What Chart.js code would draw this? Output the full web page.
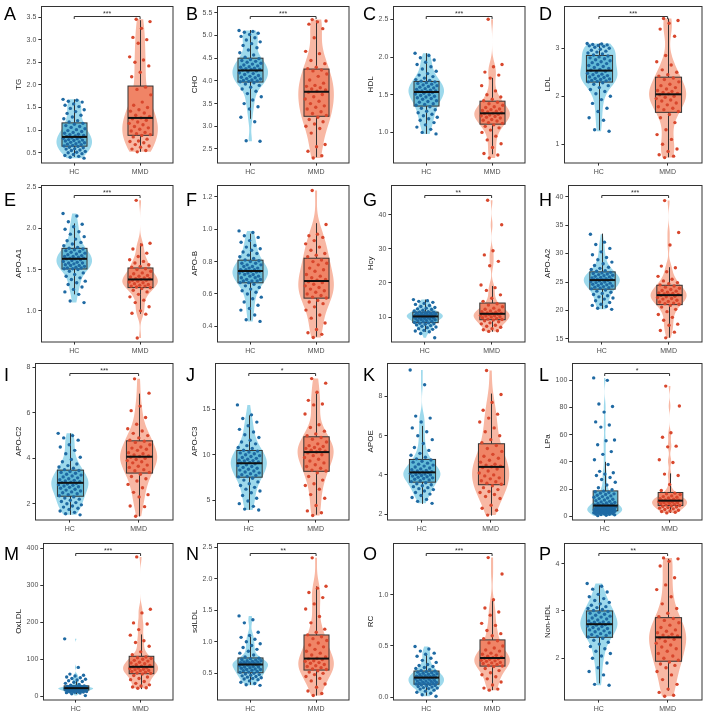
<!DOCTYPE html>
<html>
<head>
<meta charset="utf-8">
<script src="https://cdn.jsdelivr.net/npm/chart.js@4"></script>
<style>
  body { margin: 0; background: #fff; }
  #grid { position: relative; width: 709px; height: 716px; }
  #grid canvas { position: absolute; }
</style>
</head>
<body>
<div id="grid"></div>
<script>
// groups and panel text
const groups = ['HC', 'MMD'];
const panelLetters = ['A','B','C','D','E','F','G','H','I','J','K','L','M','N','O','P'];
const yTitles = ['TG','CHO','HDL','LDL','APO-A1','APO-B','Hcy','APO-A2','APO-C2','APO-C3','APOE','LPa','OxLDL','sdLDL','RC','Non-HDL'];
const sigLabels = ['***','***','***','***','***','','**','***','***','*','','*','***','**','***','**'];

// y axis ranges and tick labels
const yMins = [0.282, 2.20, 0.599, 0.616, 0.627, 0.305, 2.81, 14.54, 1.30, 2.84, 1.72, -2.4, -8.8, 0.084, -0.022, 1.128];
const yMaxs = [3.74, 5.645, 2.674, 3.877, 2.524, 1.273, 48.6, 42.0, 8.19, 20.1, 9.70, 112.4, 413, 2.562, 1.50, 4.43];
const yTickLabels = [
  ['0.5','1.0','1.5','2.0','2.5','3.0','3.5'],
  ['2.5','3.0','3.5','4.0','4.5','5.0','5.5'],
  ['1.0','1.5','2.0','2.5'],
  ['1','2','3'],
  ['1.0','1.5','2.0','2.5'],
  ['0.4','0.6','0.8','1.0','1.2'],
  ['10','20','30','40'],
  ['15','20','25','30','35','40'],
  ['2','4','6','8'],
  ['5','10','15'],
  ['2','4','6','8'],
  ['0','20','40','60','80','100'],
  ['0','100','200','300','400'],
  ['0.5','1.0','1.5','2.0','2.5'],
  ['0.0','0.5','1.0'],
  ['2','3','4']
];

// box statistics [lower whisker, Q1, median, Q3, upper whisker]
const hcBoxes = [
  [0.41, 0.645, 0.85, 1.16, 1.68], [3.165, 3.975, 4.23, 4.50, 5.12], [0.98, 1.349, 1.536, 1.676, 2.05], [1.29, 2.295, 2.534, 2.85, 3.10],
  [1.20, 1.508, 1.631, 1.758, 2.06], [0.436, 0.669, 0.742, 0.809, 0.973], [5.7, 8.36, 10.18, 11.43, 15.1], [20.29, 23.74, 25.34, 26.78, 33.5],
  [1.51, 2.33, 2.92, 3.479, 5.1], [3.92, 7.52, 9.06, 10.47, 14.35], [2.52, 3.63, 4.13, 4.79, 6.5], [0.5, 4.07, 7.9, 18.66, 40],
  [6, 16.8, 22.1, 28.3, 45], [0.318, 0.51, 0.64, 0.744, 1.108], [0.016, 0.128, 0.192, 0.256, 0.415], [1.47, 2.443, 2.72, 3.0, 3.54]
];
const mmdBoxes = [
  [0.52, 0.885, 1.27, 1.975, 3.43], [2.32, 3.22, 3.76, 4.26, 5.33], [0.71, 1.109, 1.253, 1.414, 1.724], [0.726, 1.664, 2.04, 2.397, 3.62],
  [0.964, 1.282, 1.381, 1.52, 1.817], [0.335, 0.574, 0.68, 0.821, 1.038], [5.7, 9.22, 10.95, 14.1, 19.1], [15.23, 21.03, 22.7, 24.43, 27.6],
  [1.44, 3.35, 4.07, 4.77, 6.85], [3.38, 8.17, 10.29, 11.98, 16.87], [1.92, 3.50, 4.41, 5.59, 8.15], [2.5, 7.9, 11.5, 17.5, 31.5],
  [19.5, 61, 79.6, 108, 167], [0.147, 0.552, 0.734, 1.108, 1.877], [0.07, 0.304, 0.383, 0.559, 0.952], [1.315, 1.938, 2.443, 2.858, 4.10]
];

// individual values
const hcTG = [1.68,1.66,1.64,1.62,1.58,1.55,1.52,1.48,1.45,1.41,1.37,1.33,1.29,1.25,1.21,1.18,1.15,1.13,1.10,1.08,1.06,1.03,1.01,0.99,0.97,0.95,0.93,0.91,0.90,0.88,0.87,0.86,0.84,0.83,0.82,0.81,0.79,0.78,0.77,0.76,0.74,0.73,0.72,0.70,0.69,0.68,0.66,0.65,0.64,0.62,0.61,0.59,0.58,0.56,0.55,0.53,0.51,0.50,0.48,0.46,0.44,0.42,0.40,0.38];
const mmdTG = [3.45,3.40,3.25,3.05,3.00,2.92,2.62,2.55,2.50,2.42,2.28,2.18,1.95,1.90,1.78,1.62,1.55,1.50,1.45,1.42,1.38,1.33,1.30,1.27,1.25,1.22,1.18,1.15,1.12,1.08,1.05,1.02,0.98,0.95,0.92,0.90,0.88,0.85,0.80,0.76,0.75,0.72,0.68,0.65,0.62,0.58,0.55,0.52];
const hcCHO = [5.11,5.09,5.07,5.05,5.02,4.98,4.95,4.90,4.86,4.82,4.78,4.73,4.68,4.62,4.57,4.52,4.49,4.47,4.45,4.43,4.41,4.39,4.37,4.35,4.33,4.31,4.30,4.28,4.27,4.26,4.25,4.24,4.22,4.20,4.18,4.16,4.14,4.12,4.10,4.08,4.07,4.05,4.04,4.02,4.01,4.00,3.99,3.98,3.96,3.93,3.90,3.86,3.82,3.77,3.72,3.65,3.58,3.50,3.43,3.38,3.20,3.10,2.68,2.67];
const mmdCHO = [5.35,5.32,5.30,5.25,5.15,4.95,4.65,4.60,4.45,4.38,4.30,4.27,4.24,4.22,4.15,4.10,4.02,3.95,3.90,3.88,3.85,3.82,3.80,3.77,3.75,3.70,3.65,3.60,3.55,3.50,3.45,3.42,3.38,3.32,3.28,3.24,3.20,3.15,3.10,3.05,3.00,2.95,2.85,2.60,2.55,2.45,2.35,2.30];
const hcHDL = [2.05,2.02,1.99,1.96,1.93,1.90,1.87,1.84,1.81,1.78,1.76,1.74,1.72,1.70,1.69,1.68,1.67,1.66,1.65,1.64,1.63,1.62,1.61,1.60,1.59,1.58,1.57,1.56,1.55,1.55,1.54,1.54,1.53,1.52,1.51,1.50,1.49,1.48,1.47,1.46,1.45,1.44,1.42,1.41,1.40,1.38,1.37,1.36,1.34,1.32,1.30,1.28,1.26,1.24,1.22,1.20,1.18,1.16,1.13,1.10,1.07,1.04,1.00,0.98];
const mmdHDL = [2.50,1.90,1.87,1.80,1.76,1.72,1.62,1.55,1.50,1.47,1.44,1.42,1.40,1.38,1.36,1.34,1.33,1.31,1.30,1.29,1.28,1.27,1.26,1.255,1.25,1.24,1.23,1.22,1.21,1.20,1.19,1.17,1.16,1.15,1.13,1.12,1.10,1.08,1.06,1.03,1.00,0.95,0.90,0.85,0.80,0.72,0.70,0.66];
const hcLDL = [3.10,3.09,3.08,3.07,3.06,3.05,3.04,3.02,3.00,2.98,2.96,2.94,2.92,2.90,2.88,2.86,2.84,2.82,2.80,2.78,2.76,2.74,2.72,2.70,2.68,2.66,2.64,2.62,2.60,2.58,2.56,2.54,2.52,2.50,2.48,2.46,2.45,2.43,2.42,2.40,2.39,2.37,2.36,2.35,2.33,2.32,2.31,2.30,2.28,2.25,2.22,2.18,2.14,2.10,2.05,2.00,1.93,1.85,1.75,1.68,1.55,1.50,1.30,1.27];
const mmdLDL = [3.62,3.58,3.52,3.40,3.25,2.85,2.72,2.65,2.55,2.50,2.45,2.42,2.38,2.35,2.30,2.25,2.22,2.18,2.15,2.12,2.10,2.08,2.06,2.05,2.03,2.00,1.98,1.95,1.92,1.90,1.86,1.82,1.78,1.75,1.72,1.68,1.62,1.55,1.45,1.30,1.20,1.10,1.00,0.90,0.85,0.78,0.75,0.72];
const hcAPOA1 = [2.18,2.15,2.08,2.05,2.02,1.99,1.96,1.93,1.90,1.87,1.85,1.83,1.81,1.79,1.77,1.76,1.75,1.74,1.73,1.72,1.71,1.70,1.69,1.68,1.67,1.66,1.66,1.65,1.64,1.64,1.63,1.63,1.62,1.61,1.60,1.59,1.58,1.58,1.57,1.56,1.55,1.55,1.54,1.53,1.52,1.52,1.51,1.51,1.50,1.48,1.46,1.44,1.42,1.40,1.38,1.36,1.34,1.32,1.29,1.26,1.23,1.20,1.12,1.10];
const mmdAPOA1 = [2.34,1.82,1.80,1.75,1.70,1.66,1.62,1.60,1.58,1.56,1.54,1.53,1.51,1.50,1.48,1.46,1.45,1.43,1.42,1.41,1.40,1.39,1.39,1.38,1.37,1.37,1.36,1.35,1.34,1.33,1.32,1.31,1.30,1.30,1.29,1.28,1.27,1.25,1.23,1.20,1.17,1.13,1.10,1.05,1.00,0.97,0.96,0.67];
const hcAPOB = [0.99,0.98,0.96,0.95,0.93,0.92,0.90,0.89,0.88,0.87,0.86,0.85,0.84,0.83,0.82,0.81,0.805,0.80,0.79,0.79,0.78,0.78,0.77,0.77,0.76,0.76,0.75,0.75,0.75,0.74,0.74,0.74,0.735,0.73,0.73,0.72,0.72,0.71,0.71,0.70,0.70,0.69,0.69,0.68,0.68,0.68,0.67,0.67,0.66,0.65,0.64,0.63,0.62,0.61,0.60,0.58,0.57,0.55,0.53,0.51,0.50,0.47,0.44,0.43];
const mmdAPOB = [1.24,1.03,0.97,0.96,0.95,0.93,0.91,0.89,0.87,0.85,0.84,0.83,0.81,0.80,0.79,0.78,0.76,0.75,0.74,0.72,0.71,0.70,0.69,0.685,0.675,0.67,0.66,0.65,0.64,0.63,0.62,0.61,0.60,0.59,0.58,0.575,0.56,0.55,0.54,0.52,0.50,0.47,0.45,0.42,0.38,0.36,0.35,0.33];
const hcHcy = [15.1,14.8,14.6,14.3,14.0,13.7,13.4,13.1,12.8,12.6,12.4,12.2,12.0,11.8,11.6,11.5,11.4,11.3,11.2,11.1,11.0,10.9,10.8,10.7,10.6,10.55,10.5,10.4,10.35,10.3,10.25,10.2,10.15,10.1,10.0,9.9,9.8,9.7,9.6,9.5,9.4,9.3,9.2,9.0,8.9,8.8,8.6,8.4,8.3,8.2,8.0,7.9,7.7,7.5,7.3,7.1,6.9,6.6,6.4,6.1,5.9,5.7,5.2,3.95];
const mmdHcy = [44.2,37.0,29.4,28.2,26.3,25.0,19.4,18.6,17.8,16.5,15.5,14.6,13.9,13.5,13.0,12.6,12.3,12.0,11.8,11.6,11.4,11.2,11.1,11.0,10.9,10.8,10.7,10.5,10.4,10.3,10.1,10.0,9.8,9.6,9.4,9.3,9.1,8.9,8.6,8.3,8.0,7.6,7.3,7.0,6.6,6.3,6.0,5.8];
const hcAPOA2 = [33.4,32.0,31.6,30.9,30.3,29.8,29.3,28.9,28.5,28.2,27.9,27.6,27.4,27.2,27.0,26.9,26.7,26.6,26.5,26.4,26.3,26.2,26.1,26.0,25.9,25.8,25.7,25.6,25.5,25.5,25.4,25.4,25.3,25.2,25.1,25.0,24.9,24.8,24.7,24.6,24.5,24.4,24.3,24.2,24.1,24.0,23.9,23.8,23.6,23.4,23.2,23.0,22.8,22.6,22.4,22.2,22.0,21.7,21.4,21.1,20.9,20.7,20.4,20.2];
const mmdAPOA2 = [39.3,33.7,31.5,27.8,27.5,26.8,26.0,25.5,25.2,24.9,24.7,24.5,24.3,24.1,23.9,23.7,23.5,23.4,23.2,23.1,23.0,22.9,22.8,22.75,22.65,22.5,22.4,22.3,22.1,22.0,21.8,21.6,21.5,21.3,21.2,21.1,20.9,20.6,20.2,19.8,19.3,18.8,18.3,17.6,17.4,16.5,16.2,15.2];
const hcAPOC2 = [5.10,5.00,4.90,4.80,4.60,4.50,4.35,4.20,4.05,3.95,3.85,3.75,3.68,3.62,3.56,3.50,3.46,3.42,3.38,3.34,3.30,3.26,3.22,3.18,3.14,3.10,3.06,3.03,3.00,2.97,2.95,2.93,2.90,2.87,2.84,2.81,2.78,2.75,2.72,2.68,2.64,2.60,2.56,2.52,2.48,2.44,2.40,2.35,2.30,2.25,2.20,2.15,2.10,2.05,2.00,1.95,1.90,1.85,1.80,1.75,1.68,1.62,1.56,1.51];
const mmdAPOC2 = [7.50,6.87,6.30,6.10,5.80,5.50,5.30,5.20,5.10,5.00,4.90,4.80,4.75,4.70,4.60,4.50,4.45,4.40,4.35,4.25,4.20,4.15,4.10,4.08,4.05,4.00,3.95,3.90,3.85,3.80,3.70,3.65,3.60,3.50,3.45,3.38,3.30,3.20,3.10,3.00,2.85,2.70,2.50,2.40,2.30,1.90,1.87,1.45];
const hcAPOC3 = [15.5,14.4,14.0,13.6,13.2,12.8,12.5,12.2,11.9,11.6,11.4,11.2,11.0,10.8,10.7,10.5,10.4,10.3,10.2,10.1,10.0,9.9,9.8,9.7,9.6,9.5,9.4,9.35,9.3,9.2,9.15,9.1,9.0,8.9,8.8,8.7,8.6,8.5,8.4,8.3,8.2,8.1,8.0,7.9,7.8,7.7,7.6,7.55,7.4,7.2,7.0,6.8,6.6,6.4,6.2,6.0,5.8,5.5,5.2,4.9,4.6,4.3,4.0,3.9];
const mmdAPOC3 = [18.4,17.9,16.9,16.0,15.6,15.5,14.5,13.3,13.0,12.6,12.3,12.1,11.9,11.7,11.4,11.2,11.0,10.9,10.8,10.7,10.6,10.5,10.4,10.3,10.2,10.0,9.9,9.7,9.5,9.3,9.1,8.9,8.7,8.5,8.3,8.2,8.0,7.6,7.2,6.8,6.6,6.2,5.6,5.2,4.4,3.8,3.6,3.3];
const hcAPOE = [9.35,8.60,7.00,6.90,6.70,6.40,6.20,6.00,5.80,5.60,5.40,5.25,5.10,5.00,4.90,4.82,4.76,4.70,4.65,4.60,4.55,4.50,4.45,4.40,4.35,4.30,4.26,4.23,4.20,4.17,4.15,4.14,4.12,4.10,4.08,4.05,4.02,4.00,3.97,3.94,3.91,3.88,3.85,3.82,3.78,3.74,3.70,3.66,3.60,3.55,3.50,3.45,3.40,3.35,3.30,3.25,3.18,3.10,3.02,2.95,2.85,2.75,2.65,2.55];
const mmdAPOE = [9.33,8.10,7.70,7.30,7.10,6.90,6.70,6.40,6.20,6.00,5.80,5.65,5.50,5.35,5.20,5.05,4.95,4.85,4.75,4.65,4.55,4.50,4.45,4.42,4.38,4.30,4.20,4.10,4.00,3.95,3.85,3.80,3.70,3.65,3.58,3.52,3.45,3.35,3.25,3.15,3.10,3.00,2.90,2.80,2.45,2.30,2.20,1.95];
const hcLPa = [101.6,99.8,82.5,80.6,76.5,69.3,67.0,65.5,56.0,55.5,52.5,47.5,45.5,41.5,38,33,32,31,30,28.5,27,25,23,21,19.5,18.5,18.0,17.5,17.0,16.5,16.0,15.5,15.0,14.5,14.0,13.5,13.0,12.5,12.0,11.5,11.0,10.6,10.2,9.8,9.4,9.0,8.7,8.4,8.2,8.0,7.8,7.6,7.4,7.2,7.0,6.8,6.6,6.4,6.2,6.0,5.8,5.6,5.4,5.3,5.2,5.1,5.0,4.9,4.8,4.7,4.6,4.5,4.4,4.3,4.2,4.0,3.9,3.8,3.7,3.6,3.5,3.4,3.3,3.2,3.1,3.0,2.9,2.8,2.7,2.6,2.5,2.3,2.1,1.9,1.7,1.5,1.3,1.1,0.8,0.5];
const mmdLPa = [95.6,81.0,61.4,58.0,51.5,51.0,41.5,39.5,31.0,30.0,23.4,19.0,17.0,16.5,16.0,15.0,14.5,14.0,13.5,13.0,12.5,12.0,11.8,11.6,11.4,11.2,11.0,10.8,10.5,10.2,10.0,9.6,9.2,8.8,8.4,8.0,7.6,7.2,6.8,6.4,6.0,5.5,5.0,4.5,4.0,3.5,3.0,2.5];
const hcOxLDL = [155,78,60,57,55,52,50,48,46,44,42,40,38,35,32,30,28,27.5,27,26.5,26,25.5,25,24.5,24,23.8,23.5,23.2,23,22.8,22.5,22.3,22,21.7,21.4,21.1,20.8,20.5,20.2,19.9,19.6,19.3,19,18.6,18.2,17.8,17.4,17,16.5,16,15.5,15,14.5,14,13.5,13,12.5,12,11.5,11,10,9,7,2];
const mmdOxLDL = [376,235,225,198,195,180,165,150,145,135,120,112,106,104,102,100,97,95,92,90,88,85,83,81,79,77,76,75,73,72,70,69,67,65,63,62,60,56,52,48,45,40,35,31,28,25,23,22];
const hcSdLDL = [1.41,1.35,1.30,1.15,1.10,1.07,1.04,1.00,0.97,0.94,0.91,0.88,0.85,0.82,0.79,0.76,0.74,0.73,0.72,0.71,0.70,0.70,0.69,0.68,0.68,0.67,0.67,0.66,0.66,0.65,0.65,0.64,0.635,0.63,0.62,0.61,0.60,0.60,0.59,0.58,0.57,0.56,0.56,0.55,0.54,0.53,0.52,0.515,0.50,0.49,0.48,0.47,0.46,0.45,0.44,0.43,0.42,0.41,0.40,0.38,0.36,0.34,0.32,0.31];
const mmdSdLDL = [2.33,1.88,1.85,1.78,1.70,1.60,1.52,1.40,1.30,1.20,1.15,1.11,1.08,1.05,1.02,0.98,0.95,0.92,0.88,0.85,0.82,0.79,0.76,0.74,0.73,0.72,0.70,0.69,0.67,0.66,0.64,0.62,0.61,0.59,0.57,0.56,0.54,0.52,0.50,0.48,0.45,0.42,0.38,0.33,0.28,0.22,0.18,0.15];
const hcRC = [0.495,0.47,0.45,0.43,0.42,0.40,0.38,0.36,0.34,0.32,0.31,0.30,0.29,0.28,0.27,0.26,0.255,0.25,0.245,0.24,0.235,0.23,0.225,0.22,0.215,0.21,0.205,0.20,0.20,0.195,0.195,0.19,0.188,0.185,0.18,0.175,0.17,0.165,0.16,0.158,0.155,0.15,0.145,0.14,0.137,0.135,0.132,0.13,0.125,0.12,0.115,0.11,0.105,0.10,0.095,0.09,0.085,0.08,0.07,0.06,0.05,0.04,0.025,0.01];
const mmdRC = [1.36,1.20,0.95,0.87,0.83,0.80,0.72,0.70,0.65,0.62,0.60,0.57,0.55,0.53,0.50,0.48,0.46,0.45,0.43,0.42,0.41,0.40,0.39,0.385,0.38,0.375,0.37,0.36,0.355,0.35,0.34,0.335,0.33,0.32,0.31,0.305,0.30,0.28,0.26,0.24,0.22,0.20,0.18,0.15,0.12,0.09,0.08,0.07];
const hcNonHDL = [3.58,3.52,3.46,3.40,3.35,3.30,3.26,3.22,3.18,3.15,3.12,3.09,3.07,3.05,3.03,3.01,2.99,2.97,2.95,2.93,2.91,2.89,2.87,2.85,2.83,2.81,2.79,2.77,2.76,2.75,2.74,2.73,2.71,2.70,2.68,2.67,2.65,2.63,2.62,2.60,2.58,2.56,2.54,2.52,2.50,2.48,2.46,2.45,2.42,2.38,2.34,2.30,2.25,2.20,2.15,2.10,2.05,2.00,1.90,1.80,1.72,1.65,1.45,1.43];
const mmdNonHDL = [4.12,4.10,4.05,3.95,3.70,3.55,3.45,3.30,3.15,3.05,2.95,2.88,2.84,2.80,2.75,2.70,2.65,2.60,2.57,2.54,2.51,2.49,2.47,2.45,2.43,2.40,2.36,2.32,2.28,2.24,2.20,2.15,2.10,2.05,2.00,1.96,1.92,1.88,1.85,1.80,1.72,1.65,1.55,1.45,1.35,1.28,1.22,1.20];

const hcValues = [hcTG, hcCHO, hcHDL, hcLDL, hcAPOA1, hcAPOB, hcHcy, hcAPOA2, hcAPOC2, hcAPOC3, hcAPOE, hcLPa, hcOxLDL, hcSdLDL, hcRC, hcNonHDL];
const mmdValues = [mmdTG, mmdCHO, mmdHDL, mmdLDL, mmdAPOA1, mmdAPOB, mmdHcy, mmdAPOA2, mmdAPOC2, mmdAPOC3, mmdAPOE, mmdLPa, mmdOxLDL, mmdSdLDL, mmdRC, mmdNonHDL];

// styling
const colors = {
  hcPoint: '#1f6aa3', hcViolin: '#9dd9ec', hcBox: '#62bad7',
  mmdPoint: '#d8472d', mmdViolin: '#f8b8a4', mmdBox: '#f08466',
  line: '#333333', tick: '#4d4d4d'
};
const fontFamily = "'Liberation Sans', Arial, Helvetica, sans-serif";
const colLefts = [0, 176, 352, 529];
const rowTops = [0, 179, 357, 537];
const letterX = [4, 10, 11, 10];
const letterBase = [20, 27, 24, 23];

function quantile(sorted, p) {
  const pos = (sorted.length - 1) * p;
  const lo = Math.floor(pos), hi = Math.ceil(pos);
  return sorted[lo] + (sorted[hi] - sorted[lo]) * (pos - lo);
}

// gaussian kernel density, trimmed to the data range
function violinShape(values) {
  const s = values.slice().sort((a, b) => a - b);
  const n = s.length;
  const mean = s.reduce((a, b) => a + b, 0) / n;
  const sd = Math.sqrt(s.reduce((a, b) => a + (b - mean) * (b - mean), 0) / (n - 1));
  const iqr = quantile(s, 0.75) - quantile(s, 0.25);
  const bw = 0.9 * Math.min(sd, iqr / 1.34) * Math.pow(n, -0.2);
  const steps = 90;
  const out = [];
  let max = 0;
  for (let i = 0; i <= steps; i++) {
    const y = s[0] + (s[n - 1] - s[0]) * i / steps;
    let d = 0;
    for (const v of s) { const z = (y - v) / bw; d += Math.exp(-0.5 * z * z); }
    out.push([y, d]);
    if (d > max) max = d;
  }
  return out.map(p => [p[0], p[1] / max]);
}

function drawViolin(ctx, xs, ys, center, values, color) {
  const shape = violinShape(values);
  const half = (xs.getPixelForValue(1) - xs.getPixelForValue(0)) * 0.27;
  const cx = xs.getPixelForValue(center);
  ctx.beginPath();
  shape.forEach((p, i) => {
    const x = cx + half * p[1], y = ys.getPixelForValue(p[0]);
    if (i === 0) ctx.moveTo(x, y); else ctx.lineTo(x, y);
  });
  for (let i = shape.length - 1; i >= 0; i--) {
    ctx.lineTo(cx - half * shape[i][1], ys.getPixelForValue(shape[i][0]));
  }
  ctx.closePath();
  ctx.fillStyle = color;
  ctx.fill();
}

function drawBox(ctx, xs, ys, center, stats, color) {
  const half = (xs.getPixelForValue(1) - xs.getPixelForValue(0)) * 0.19;
  const cx = Math.round(xs.getPixelForValue(center)) + 0.5;
  const [lo, q1, med, q3, hi] = stats.map(v => ys.getPixelForValue(v));
  ctx.strokeStyle = colors.line;
  ctx.lineWidth = 1;
  ctx.beginPath();
  ctx.moveTo(cx, hi); ctx.lineTo(cx, q3);
  ctx.moveTo(cx, q1); ctx.lineTo(cx, lo);
  ctx.stroke();
  ctx.fillStyle = color;
  ctx.fillRect(cx - half, q3, half * 2, q1 - q3);
  ctx.strokeRect(cx - half, q3, half * 2, q1 - q3);
}

function drawMedian(ctx, xs, ys, center, stats) {
  const half = (xs.getPixelForValue(1) - xs.getPixelForValue(0)) * 0.19;
  const cx = Math.round(xs.getPixelForValue(center)) + 0.5;
  const y = ys.getPixelForValue(stats[2]);
  ctx.strokeStyle = '#111';
  ctx.lineWidth = 2;
  ctx.beginPath();
  ctx.moveTo(cx - half, y); ctx.lineTo(cx + half, y);
  ctx.stroke();
}

const panelPlugin = {
  id: 'panelPlugin',
  beforeDatasetsDraw(chart) {
    const p = chart.options.plugins.panelPlugin;
    const ctx = chart.ctx, xs = chart.scales.x, ys = chart.scales.y;
    ctx.save();
    drawViolin(ctx, xs, ys, 0, hcValues[p.index], colors.hcViolin);
    drawViolin(ctx, xs, ys, 1, mmdValues[p.index], colors.mmdViolin);
    drawBox(ctx, xs, ys, 0, hcBoxes[p.index], colors.hcBox);
    drawBox(ctx, xs, ys, 1, mmdBoxes[p.index], colors.mmdBox);
    ctx.restore();
  },
  afterDatasetsDraw(chart) {
    const p = chart.options.plugins.panelPlugin;
    const ctx = chart.ctx, xs = chart.scales.x, ys = chart.scales.y;
    const area = chart.chartArea;
    ctx.save();
    drawMedian(ctx, xs, ys, 0, hcBoxes[p.index]);
    drawMedian(ctx, xs, ys, 1, mmdBoxes[p.index]);

    // significance bracket
    const sig = sigLabels[p.index];
    if (sig) {
      const y = Math.round(area.top + 10) + 0.5;
      const x0 = xs.getPixelForValue(0), x1 = xs.getPixelForValue(1);
      ctx.strokeStyle = colors.line;
      ctx.lineWidth = 1;
      ctx.beginPath();
      ctx.moveTo(x0, y + 2.5); ctx.lineTo(x0, y); ctx.lineTo(x1, y); ctx.lineTo(x1, y + 2.5);
      ctx.stroke();
      ctx.fillStyle = colors.line;
      ctx.font = '7px ' + fontFamily;
      ctx.textAlign = 'center';
      ctx.textBaseline = 'bottom';
      ctx.fillText(sig, (x0 + x1) / 2, y + 1);
    }

    // panel frame
    ctx.strokeStyle = colors.line;
    ctx.lineWidth = 1;
    const l = Math.round(area.left) + 0.5, t = Math.round(area.top) + 0.5;
    ctx.strokeRect(l, t, Math.round(area.right) - l, Math.round(area.bottom) - t);

    // panel letter
    ctx.fillStyle = '#000';
    ctx.font = '18px ' + fontFamily;
    ctx.textAlign = 'left';
    ctx.textBaseline = 'alphabetic';
    ctx.fillText(panelLetters[p.index], letterX[p.index % 4], letterBase[Math.floor(p.index / 4)]);
    ctx.restore();
  }
};

// small deterministic spread across the group centre
function jitter(i) {
  return (((i * 0.618034) % 1) - 0.5) * 0.34;
}

const grid = document.getElementById('grid');
for (let i = 0; i < 16; i++) {
  const canvas = document.createElement('canvas');
  canvas.width = 177;
  canvas.height = 178;
  canvas.style.left = colLefts[i % 4] + 'px';
  canvas.style.top = rowTops[Math.floor(i / 4)] + 'px';
  grid.appendChild(canvas);

  const tickValues = yTickLabels[i].map(Number);
  new Chart(canvas, {
    type: 'scatter',
    data: {
      datasets: [
        {
          data: hcValues[i].map((v, k) => ({ x: jitter(k), y: v })),
          backgroundColor: colors.hcPoint,
          pointRadius: 1.7,
          pointBorderWidth: 0
        },
        {
          data: mmdValues[i].map((v, k) => ({ x: 1 + jitter(k + 7), y: v })),
          backgroundColor: colors.mmdPoint,
          pointRadius: 1.7,
          pointBorderWidth: 0
        }
      ]
    },
    options: {
      responsive: false,
      animation: false,
      devicePixelRatio: 1,
      layout: { padding: { left: 14, top: 4, right: 2, bottom: 0 } },
      plugins: {
        legend: { display: false },
        tooltip: { enabled: false },
        panelPlugin: { index: i }
      },
      scales: {
        x: {
          type: 'linear',
          min: -0.5,
          max: 1.5,
          afterBuildTicks: scale => { scale.ticks = [{ value: 0 }, { value: 1 }]; },
          ticks: {
            autoSkip: false,
            maxRotation: 0,
            padding: 2,
            color: colors.tick,
            font: { size: 7, family: fontFamily },
            callback: v => groups[v]
          },
          grid: { drawOnChartArea: false, drawTicks: true, tickLength: 3, color: colors.line },
          border: { display: false }
        },
        y: {
          min: yMins[i],
          max: yMaxs[i],
          afterBuildTicks: scale => { scale.ticks = tickValues.map(v => ({ value: v })); },
          ticks: {
            autoSkip: false,
            padding: 2,
            color: colors.tick,
            font: { size: 7, family: fontFamily },
            callback: (v) => yTickLabels[i][tickValues.indexOf(v)]
          },
          title: {
            display: true,
            text: yTitles[i],
            color: '#1a1a1a',
            font: { size: 8, family: fontFamily },
            padding: { top: 0, bottom: 1 }
          },
          grid: { drawOnChartArea: false, drawTicks: true, tickLength: 3, color: colors.line },
          border: { display: false }
        }
      }
    },
    plugins: [panelPlugin]
  });
}
</script>
</body>
</html>
